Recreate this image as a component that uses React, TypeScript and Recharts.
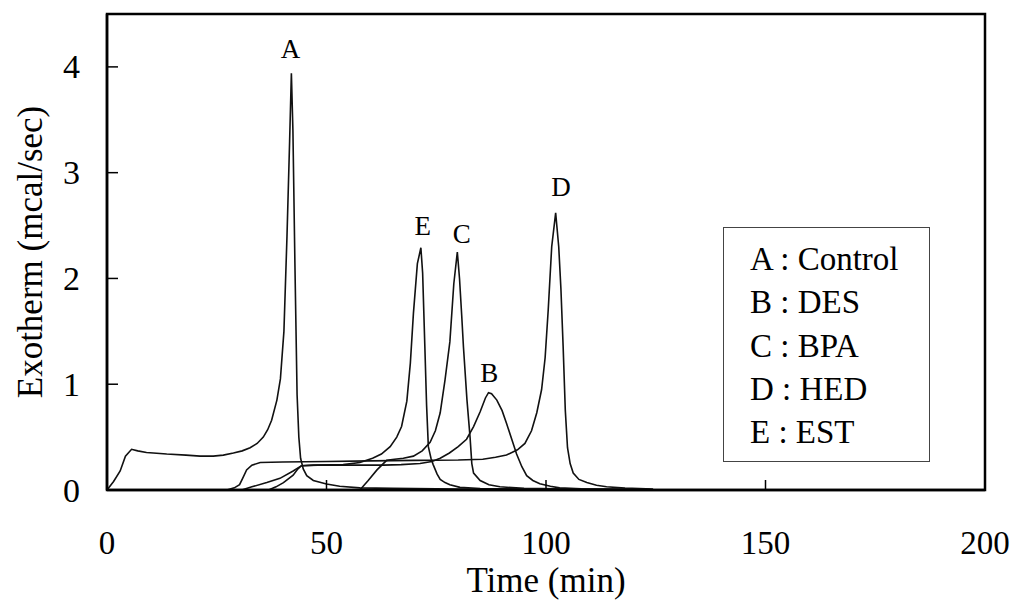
import { LineChart, Line, XAxis, YAxis, ReferenceArea, ReferenceDot, Label } from 'recharts';

const SERIF = "'Liberation Serif', 'Times New Roman', serif";

// series keys and names (legend)
const seriesTags = ['A', 'B', 'C', 'D', 'E'];
const seriesNames = ['Control', 'DES', 'BPA', 'HED', 'EST'];

const timeTicks = [0, 50, 100, 150, 200];
const heatTicks = [0, 1, 2, 3, 4];

// [time (min), exotherm (mcal/sec)]
const controlCurve: [number, number][] = [
  [0, 0], [1.5, 0.08], [3, 0.18], [4.2, 0.32], [5.6, 0.385], [7, 0.37], [9, 0.355],
  [13.6, 0.34], [18, 0.33], [21.2, 0.32], [24.2, 0.32], [26.5, 0.33], [28.8, 0.35],
  [30.8, 0.37], [32.6, 0.4], [34.2, 0.44], [35.6, 0.5], [36.6, 0.57], [37.5, 0.66],
  [38.7, 0.85], [39.5, 1.05], [40.3, 1.5], [41.0, 2.4], [41.6, 3.3], [42.0, 3.94],
  [42.35, 3.4], [42.8, 2.15], [43.3, 0.9], [43.7, 0.5], [44.1, 0.3], [44.7, 0.2],
  [45.5, 0.135], [47, 0.09], [50, 0.057], [53, 0.035], [57.6, 0.02], [65, 0.015],
  [80, 0.009], [100, 0.005], [124, 0.003],
];

const desCurve: [number, number][] = [
  [36.8, 0], [38.5, 0.03], [40.2, 0.07], [42.4, 0.14], [43.5, 0.2], [44.3, 0.23],
  [47, 0.235], [52, 0.235], [58, 0.235], [63, 0.235], [67, 0.24], [71.3, 0.25],
  [74, 0.27], [75.9, 0.3], [78, 0.35], [80, 0.41], [81.9, 0.48], [83.5, 0.6],
  [85, 0.74], [86.2, 0.87], [86.9, 0.92], [87.6, 0.91], [88.8, 0.85], [90, 0.75],
  [91, 0.63], [92.2, 0.48], [93.3, 0.34], [94.5, 0.22], [95.6, 0.135], [97, 0.09],
  [98.6, 0.06], [101, 0.035], [103.1, 0.02], [108, 0.012], [115, 0.008], [124, 0.004],
];

const bpaCurve: [number, number][] = [
  [57.6, 0], [59.5, 0.09], [61.5, 0.19], [63.7, 0.28], [65.5, 0.29], [67.5, 0.3],
  [69.8, 0.32], [71.8, 0.37], [73.6, 0.45], [74.8, 0.56], [75.9, 0.73], [77, 1.04],
  [78.1, 1.4], [79, 1.95], [79.8, 2.25], [80.3, 2.0], [80.8, 1.65], [81.2, 1.35],
  [82, 0.85], [82.7, 0.5], [83.1, 0.25], [83.5, 0.16], [85, 0.09], [87, 0.05],
  [89.5, 0.03], [95, 0.015], [110, 0.006], [124, 0.003],
];

const hedCurve: [number, number][] = [
  [27.3, 0], [29, 0.02], [30.2, 0.05], [30.9, 0.11], [31.8, 0.19], [33, 0.235],
  [34.9, 0.26], [40, 0.265], [50, 0.27], [60, 0.275], [70, 0.28], [80, 0.283],
  [85.6, 0.29], [88.5, 0.31], [91, 0.33], [93.5, 0.38], [95.2, 0.44], [96.7, 0.56],
  [97.9, 0.73], [99, 0.95], [99.8, 1.25], [100.5, 1.7], [101.3, 2.3], [102.2, 2.62],
  [102.9, 2.3], [103.4, 1.9], [103.9, 1.36], [104.4, 0.75], [104.9, 0.4], [105.5, 0.25],
  [106.2, 0.16], [107.5, 0.1], [109.3, 0.07], [111.5, 0.045], [113.8, 0.03],
  [118, 0.018], [124.4, 0.01],
];

const estCurve: [number, number][] = [
  [30.7, 0], [33, 0.03], [36.4, 0.07], [39.4, 0.11], [42.4, 0.18], [44.3, 0.23],
  [48, 0.235], [51, 0.238], [53.8, 0.24], [57.6, 0.26], [60.5, 0.3], [62.5, 0.34],
  [64.5, 0.41], [66, 0.5], [67.1, 0.6], [68.3, 0.84], [69.1, 1.2], [69.8, 1.67],
  [70.7, 2.14], [71.5, 2.29], [71.9, 2.05], [72.4, 1.36], [72.8, 0.8], [73.2, 0.41],
  [73.8, 0.3], [74.3, 0.24], [75.2, 0.15], [75.9, 0.1], [77, 0.07], [78.1, 0.05],
  [80.4, 0.025], [85, 0.014], [100, 0.006], [124, 0.003],
];

const curves = [controlCurve, desCurve, bpaCurve, hedCurve, estCurve];

// peak letters, placed in data units just above each peak
const peakTags = ['A', 'E', 'C', 'B', 'D'];
const peakTagTime = [41.8, 71.9, 80.8, 87.1, 103.4];
const peakTagHeat = [4.17, 2.5, 2.43, 1.11, 2.87];

const toPoints = (c: [number, number][]) => c.map(([t, q]) => ({ t, q }));

function TimeTick({ x, y, payload }: any) {
  return (
    <g>
      <line x1={x} y1={y} x2={x} y2={y - 10} stroke="#000" strokeWidth={1.5} />
      <text x={x} y={y + 53} textAnchor="middle" dominantBaseline="central"
        fontFamily={SERIF} fontSize={33} fill="#000">
        {payload.value}
      </text>
    </g>
  );
}

function HeatTick({ x, y, payload }: any) {
  return (
    <g>
      <line x1={x} y1={y} x2={x + 11} y2={y} stroke="#000" strokeWidth={1.5} />
      <text x={x - 27} y={y} textAnchor="end" dominantBaseline="central"
        fontFamily={SERIF} fontSize={34} fill="#000">
        {payload.value}
      </text>
    </g>
  );
}

export default function App() {
  return (
    <div style={{ position: 'absolute', left: 0, top: 0, width: 1024, height: 616, background: '#fff' }}>
      <LineChart width={1024} height={616} margin={{ top: 14, right: 39, bottom: 0, left: 0 }}>
        <XAxis
          dataKey="t"
          type="number"
          domain={[0, 200]}
          ticks={timeTicks}
          height={126}
          tickSize={0}
          tickMargin={0}
          tick={<TimeTick />}
          axisLine={{ stroke: '#000', strokeWidth: 2.5 }}
          allowDuplicatedCategory={false}
        >
          <Label value="Time (min)" position="insideBottom" offset={24}
            style={{ fontFamily: SERIF, fontSize: 35, fill: '#000' }} />
        </XAxis>
        <YAxis
          type="number"
          domain={[0, 4.5]}
          ticks={heatTicks}
          width={107}
          tickSize={0}
          tickMargin={0}
          tick={<HeatTick />}
          axisLine={{ stroke: '#000', strokeWidth: 2.5 }}
        >
          <Label value="Exotherm (mcal/sec)" angle={-90} position="insideLeft" offset={30}
            style={{ fontFamily: SERIF, fontSize: 35, fill: '#000', textAnchor: 'middle' }} />
        </YAxis>
        <ReferenceArea x1={0} x2={200} y1={0} y2={4.5} fill="none" stroke="#000" strokeWidth={2.5} />
        {curves.map((c, i) => (
          <Line
            key={seriesTags[i]}
            data={toPoints(c)}
            dataKey="q"
            name={seriesNames[i]}
            type="linear"
            stroke="#111"
            strokeWidth={1.6}
            dot={false}
            activeDot={false}
            isAnimationActive={false}
          />
        ))}
        {peakTags.map((tag, i) => (
          <ReferenceDot
            key={tag}
            x={peakTagTime[i]}
            y={peakTagHeat[i]}
            r={0}
            fill="none"
            stroke="none"
            label={{ value: tag, position: 'center', fontFamily: SERIF, fontSize: 27, fill: '#000' }}
          />
        ))}
      </LineChart>
      <div
        style={{
          position: 'absolute', left: 723, top: 227, width: 207, height: 235,
          boxSizing: 'border-box', border: '1.5px solid #444', background: '#fff',
          paddingTop: 10, paddingLeft: 26,
          fontFamily: SERIF, fontSize: 33, lineHeight: '43.3px', color: '#000',
        }}
      >
        {seriesTags.map((tag, i) => (
          <div key={tag} style={{ whiteSpace: 'nowrap' }}>{`${tag} : ${seriesNames[i]}`}</div>
        ))}
      </div>
    </div>
  );
}
